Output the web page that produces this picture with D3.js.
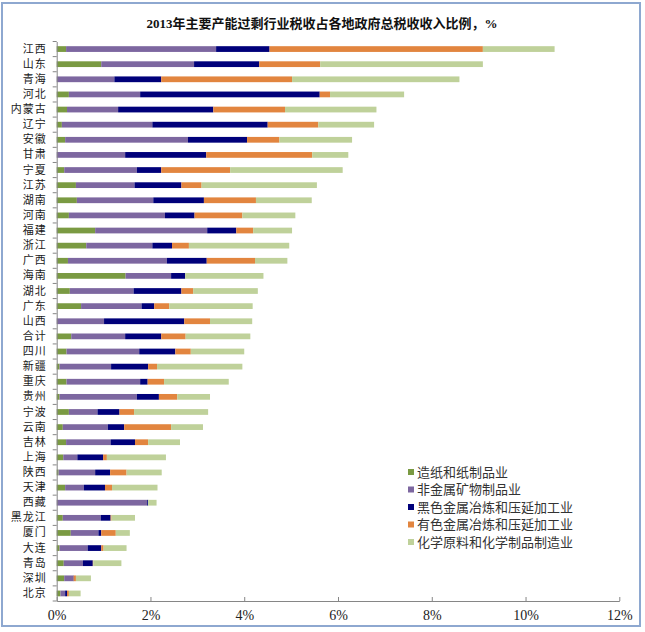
<!DOCTYPE html>
<html><head><meta charset="utf-8">
<script src="https://cdn.jsdelivr.net/npm/d3@7"></script>
<style>body{margin:0;background:#fff;}svg{display:block;}</style>
</head><body>
<svg id="c" width="645" height="632"></svg>
<script>
const categories = ["江西","山东","青海","河北","内蒙古","辽宁","安徽","甘肃","宁夏","江苏","湖南","河南","福建","浙江","广西","海南","湖北","广东","山西","合计","四川","新疆","重庆","贵州","宁波","云南","吉林","上海","陕西","天津","西藏","黑龙江","厦门","大连","青岛","深圳","北京"];
const seriesNames = ["造纸和纸制品业","非金属矿物制品业","黑色金属冶炼和压延加工业","有色金属冶炼和压延加工业","化学原料和化学制品制造业"];
const paper = [0.20,0.95,0,0.26,0.22,0.11,0.18,0,0.16,0.41,0.43,0.26,0.82,0.63,0.24,1.47,0.28,0.52,0,0.31,0.21,0.06,0.21,0.06,0.26,0.13,0.20,0.14,0.04,0.18,0,0.13,0.30,0.06,0.15,0.16,0.08];
const nonmetal = [3.20,1.98,1.23,1.52,1.09,1.93,2.62,1.46,1.55,1.25,1.63,2.05,2.39,1.41,2.11,0.97,1.36,1.29,1.01,1.15,1.55,1.10,1.57,1.65,0.61,0.96,0.95,0.30,0.78,0.40,1.93,0.81,0.59,0.60,0.41,0.19,0.10];
const ferrous = [1.14,1.39,1.00,3.83,2.03,2.46,1.26,1.73,0.52,1.00,1.08,0.63,0.62,0.42,0.85,0.30,1.02,0.27,1.71,0.77,0.77,0.79,0.16,0.47,0.47,0.35,0.52,0.55,0.32,0.45,0.02,0.21,0.06,0.29,0.21,0.01,0.04];
const nonferrous = [4.55,1.30,2.79,0.22,1.53,1.08,0.69,2.26,1.47,0.43,1.11,1.02,0.36,0.36,1.03,0,0.25,0.32,0.55,0.52,0.33,0.19,0.35,0.39,0.31,1.00,0.28,0.08,0.35,0.15,0,0.02,0.31,0.05,0.01,0.05,0.04];
const chemical = [1.53,3.47,3.57,1.58,1.95,1.19,1.55,0.77,2.40,2.46,1.19,1.13,0.83,2.14,0.69,1.67,1.38,1.78,0.90,1.38,1.14,1.82,1.38,0.70,1.58,0.68,0.68,1.26,0.75,0.97,0.18,0.50,0.30,0.49,0.60,0.32,0.25];
const xTicks = [0,2,4,6,8,10,12];
const colors = ["#7A9A42","#7D67A0","#00007A","#E2853F","#BFD19A"];

const seriesData = [paper, nonmetal, ferrous, nonferrous, chemical];
const rows = categories.map((c,i)=>{const o={cat:c}; seriesNames.forEach((s,k)=>o[s]=seriesData[k][i]); return o;});
const stack = d3.stack().keys(seriesNames)(rows);

const svg = d3.select("#c");
svg.append("rect").attr("x",2).attr("y",3).attr("width",638).attr("height",623)
  .attr("fill","#fff").attr("stroke","#8EA8D0").attr("stroke-width",2);

svg.append("text").attr("x",322).attr("y",28).attr("text-anchor","middle")
  .attr("font-family","'Liberation Serif','Noto Sans CJK SC',serif").attr("font-weight","bold")
  .attr("font-size",13).attr("fill","#111")
  .text("2013年主要产能过剩行业税收占各地政府总税收收入比例，%");

const x = d3.scaleLinear().domain([0,12]).range([56.7,619.3]);
const y = d3.scaleBand().domain(categories).range([41.5,601]).paddingInner(0.62).paddingOuter(0.31);

const g = svg.append("g");
g.selectAll("g.s").data(stack).join("g").attr("fill",(d,i)=>colors[i])
  .selectAll("rect").data(d=>d).join("rect")
  .attr("x",d=>x(d[0])).attr("width",d=>Math.max(0,x(d[1])-x(d[0])))
  .attr("y",d=>y(d.data.cat)).attr("height",y.bandwidth());

const xa = svg.append("g").attr("transform","translate(0,601)")
  .call(d3.axisBottom(x).tickValues(xTicks).tickFormat(d=>d+"%").tickSizeInner(-4).tickSizeOuter(0).tickPadding(9));
xa.select(".domain").attr("stroke","#868686");
xa.selectAll(".tick line").attr("stroke","#868686");
xa.selectAll(".tick text").attr("font-family","'Liberation Serif',serif").attr("font-size",14).attr("fill","#222");

const ya = svg.append("g").attr("transform","translate(56.7,0)")
  .call(d3.axisLeft(y).tickSize(0).tickPadding(10));
ya.select(".domain").attr("stroke","#868686");
ya.selectAll(".tick text").attr("font-family","'Noto Sans CJK SC',sans-serif").attr("font-size",11)
  .attr("letter-spacing","1px").attr("fill","#1a1a1a");
const bounds = categories.map(c=>y(c)-y.step()*y.paddingInner()/2).concat([601]);
ya.selectAll("line.b").data(bounds).join("line").attr("class","b")
  .attr("x1",-4).attr("x2",0).attr("y1",d=>d).attr("y2",d=>d).attr("stroke","#868686");

const lg = svg.append("g").attr("transform","translate(408,472)");
seriesNames.forEach((s,i)=>{
  const r = lg.append("g").attr("transform",`translate(0,${i*17.5})`);
  r.append("rect").attr("x",0).attr("y",-3).attr("width",6).attr("height",6).attr("fill",colors[i]);
  r.append("text").attr("x",9).attr("y",0).attr("dy","0.35em")
    .attr("font-family","'Noto Sans CJK SC',sans-serif").attr("font-size",13).attr("fill","#333").text(s);
});
</script>
</body></html>
